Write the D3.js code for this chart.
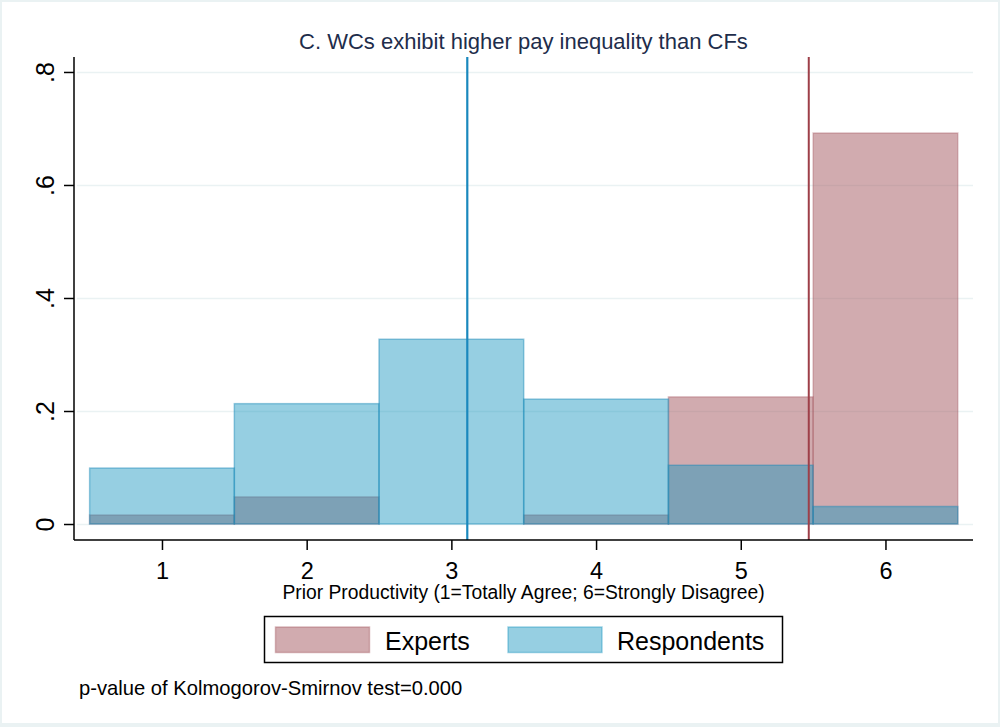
<!DOCTYPE html>
<html>
<head>
<meta charset="utf-8">
<script src="https://cdn.jsdelivr.net/npm/d3@7"></script>
<style>
  body { margin: 0; background: #fff; }
  text { font-family: "Liberation Sans", Arial, sans-serif; }
</style>
</head>
<body>
<div id="chart-area"></div>
<script>
// histogram shares by answer category
const categories = [1, 2, 3, 4, 5, 6]
const experts = [0.016, 0.048, 0, 0.016, 0.225, 0.692]
const respondents = [0.099, 0.213, 0.327, 0.221, 0.104, 0.031]
const expertsMean = 5.47
const respondentsMean = 3.11
const yTicks = [0, 0.2, 0.4, 0.6, 0.8]
const yTickLabels = ["0", ".2", ".4", ".6", ".8"]

const W = 1000
const H = 727
const PLOT = { LEFT: 74, RIGHT: 973, TOP: 57, BOTTOM: 540 }

const svg = d3.select("#chart-area").append("svg")
  .attr("width", W)
  .attr("height", H)

// outer graph region
svg.append("rect").attr("width", W).attr("height", H).attr("fill", "#eaf2f3")
svg.append("rect").attr("x", 2).attr("y", 2).attr("width", W - 4).attr("height", H - 6)
  .attr("fill", "#fff")

const x = d3.scaleLinear()
  .domain([0.392, 6.605])
  .range([PLOT.LEFT, PLOT.RIGHT])

const y = d3.scaleLinear()
  .domain([-0.0283, 0.8265])
  .range([PLOT.BOTTOM, PLOT.TOP])

// grid
svg.append("g")
  .attr("class", "y axis-grid")
  .attr("transform", `translate(${PLOT.RIGHT}, 0)`)
  .call(d3.axisRight(y).tickValues(yTicks).tickSize(-(PLOT.RIGHT - PLOT.LEFT - 3)).tickFormat(""))
  .call(g => g.select(".domain").remove())
  .call(g => g.selectAll("line").attr("stroke", "#eaf2f3").attr("stroke-width", 1.5))

// bars
const barW = x(1.5) - x(0.5)
svg.append("g").selectAll("rect")
  .data(categories.map((c, i) => ({ c: c, v: experts[i] })).filter(d => d.v > 0))
  .enter().append("rect")
    .attr("x", d => x(d.c - 0.5))
    .attr("y", d => y(d.v))
    .attr("width", barW)
    .attr("height", d => y(0) - y(d.v))
    .attr("fill", "#a3575f")
    .attr("fill-opacity", 0.5)
    .attr("stroke", "#a3575f")
    .attr("stroke-opacity", 0.35)
    .attr("stroke-width", 1.5)

svg.append("g").selectAll("rect")
  .data(categories.map((c, i) => ({ c: c, v: respondents[i] })))
  .enter().append("rect")
    .attr("x", d => x(d.c - 0.5))
    .attr("y", d => y(d.v))
    .attr("width", barW)
    .attr("height", d => y(0) - y(d.v))
    .attr("fill", "#1694be")
    .attr("fill-opacity", 0.45)
    .attr("stroke", "#1a8ab8")
    .attr("stroke-opacity", 0.45)
    .attr("stroke-width", 1.5)

// mean lines
svg.append("line")
  .attr("x1", x(respondentsMean)).attr("x2", x(respondentsMean))
  .attr("y1", PLOT.TOP).attr("y2", PLOT.BOTTOM)
  .attr("stroke", "#1a88bd").attr("stroke-width", 2.2)
svg.append("line")
  .attr("x1", x(expertsMean)).attr("x2", x(expertsMean))
  .attr("y1", PLOT.TOP).attr("y2", PLOT.BOTTOM)
  .attr("stroke", "#9e3f49").attr("stroke-width", 2)

// axes
const yAxisCall = d3.axisLeft(y).tickValues(yTicks).tickSize(10).tickPadding(0)
  .tickFormat((d, i) => yTickLabels[i])
svg.append("g")
  .attr("class", "y axis")
  .attr("transform", `translate(${PLOT.LEFT}, 0)`)
  .call(yAxisCall)
  .call(g => g.select(".domain").attr("d", `M0,${PLOT.TOP}V${PLOT.BOTTOM}`).attr("stroke-width", 1.5))
  .call(g => g.selectAll("line").attr("stroke-width", 1.5))
  .selectAll("text")
    .attr("x", 0).attr("dy", 0)
    .attr("text-anchor", "middle")
    .attr("transform", "translate(-20, 0) rotate(-90)")
    .attr("font-size", 25)
    .attr("font-family", "Liberation Sans, Arial, sans-serif")
    .attr("fill", "#000")

const xAxisCall = d3.axisBottom(x).tickValues(categories).tickSize(10).tickPadding(0)
  .tickFormat(d3.format("d"))
svg.append("g")
  .attr("class", "x axis")
  .attr("transform", `translate(0, ${PLOT.BOTTOM})`)
  .call(xAxisCall)
  .call(g => g.select(".domain").attr("d", `M${PLOT.LEFT},0H${PLOT.RIGHT}`).attr("stroke-width", 1.5))
  .call(g => g.selectAll("line").attr("stroke-width", 1.5))
  .selectAll("text")
    .attr("y", 38.5).attr("dy", 0)
    .attr("font-size", 23.5)
    .attr("font-family", "Liberation Sans, Arial, sans-serif")
    .attr("fill", "#000")

const midX = (PLOT.LEFT + PLOT.RIGHT) / 2

// title
svg.append("text")
  .attr("x", midX).attr("y", 49)
  .attr("text-anchor", "middle")
  .attr("font-size", 22)
  .attr("fill", "#1e2d4b")
  .text("C. WCs exhibit higher pay inequality than CFs")

svg.append("text")
  .attr("x", midX).attr("y", 599)
  .attr("text-anchor", "middle")
  .attr("font-size", 19.3)
  .attr("fill", "#000")
  .text("Prior Productivity (1=Totally Agree; 6=Strongly Disagree)")

// legend
const legend = svg.append("g")
legend.append("rect")
  .attr("x", 264.5).attr("y", 616.5).attr("width", 518).attr("height", 46)
  .attr("fill", "#fff").attr("stroke", "#000").attr("stroke-width", 1.5)

const legendItems = [
  { label: "Experts", fill: "#a3575f", op: 0.5, sx: 275.5, tx: 385 },
  { label: "Respondents", fill: "#1694be", op: 0.45, sx: 508, tx: 617 }
]
legendItems.forEach(d => {
  legend.append("rect")
    .attr("x", d.sx).attr("y", 627).attr("width", 94).attr("height", 25.5)
    .attr("fill", d.fill).attr("fill-opacity", d.op)
    .attr("stroke", d.fill).attr("stroke-opacity", 0.4).attr("stroke-width", 1.5)
  legend.append("text")
    .attr("x", d.tx).attr("y", 649.5)
    .attr("font-size", 25)
    .attr("fill", "#000")
    .text(d.label)
})

svg.append("text")
  .attr("x", 79).attr("y", 695)
  .attr("font-size", 20.2)
  .attr("fill", "#000")
  .text("p-value of Kolmogorov-Smirnov test=0.000")
</script>
</body>
</html>
